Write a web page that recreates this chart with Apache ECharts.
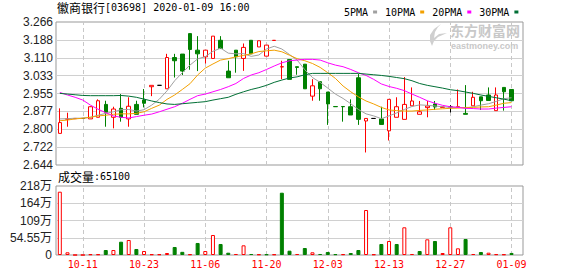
<!DOCTYPE html>
<html><head><meta charset="utf-8">
<script src="https://cdn.jsdelivr.net/npm/echarts@6/dist/echarts.min.js"></script>
<style>html,body{margin:0;padding:0;background:#fff}#c{width:578px;height:276px}</style>
</head><body><div id="c"></div>
<script>
const dates = ['10-08','10-09','10-10','10-11','10-14','10-15','10-16','10-17','10-18','10-21',
 '10-22','10-23','10-24','10-25','10-28','10-29','10-31','11-01','11-05','11-06',
 '11-07','11-08','11-11','11-12','11-14','11-15','11-19','11-20','11-21','11-22',
 '11-25','11-26','11-27','11-28','11-29','12-03','12-04','12-05','12-06','12-09',
 '12-10','12-11','12-12','12-13','12-16','12-17','12-18','12-19','12-20','12-23',
 '12-24','12-27','12-30','12-31','01-02','01-03','01-06','01-07','01-08','01-09'];
const xLabels = ['10-11','10-23','11-06','11-20','12-03','12-13','12-27','01-09'];

const opens = [2.781,2.843,2.845,2.846,2.844,2.851,2.907,2.851,2.890,2.844,
 2.907,2.926,2.984,2.990,2.975,3.111,3.126,3.215,3.143,3.114,
 3.107,3.186,3.052,3.143,3.107,3.186,3.157,3.117,3.185,3.070,
 3.102,3.071,3.082,2.943,3.006,2.961,2.898,2.898,2.897,3.023,
 2.835,2.846,2.844,2.792,2.851,2.842,2.901,2.864,2.893,2.909,
 2.894,2.896,2.895,2.868,2.901,2.940,2.948,2.880,2.981,2.972];
const closes = [2.828,2.844,2.846,2.846,2.897,2.923,2.873,2.887,2.851,2.899,
 2.864,2.912,2.990,2.990,3.111,3.097,3.052,3.146,3.127,3.143,
 3.204,3.150,3.023,3.114,3.155,3.127,3.184,3.165,3.186,3.071,
 3.016,3.068,2.975,2.988,2.975,2.909,2.897,2.897,2.861,2.842,
 2.846,2.846,2.820,2.929,2.897,2.907,2.922,2.875,2.900,2.896,
 2.896,2.896,2.897,2.864,2.938,2.923,2.924,2.948,2.962,2.923];
const lows = [2.781,2.810,2.845,2.846,2.844,2.851,2.810,2.803,2.832,2.810,
 2.864,2.894,2.943,2.990,2.975,3.024,3.035,3.058,3.052,3.085,
 3.107,3.150,3.023,3.045,3.053,3.127,3.157,3.117,3.185,3.017,
 3.016,3.036,2.975,2.923,2.923,2.818,2.897,2.832,2.861,2.818,
 2.698,2.846,2.820,2.750,2.851,2.842,2.901,2.864,2.851,2.883,
 2.894,2.872,2.893,2.864,2.901,2.883,2.923,2.880,2.880,2.923];
const highs = [2.890,2.871,2.846,2.846,2.899,2.929,2.923,2.897,2.952,2.938,
 2.923,2.974,2.990,2.990,3.127,3.127,3.126,3.215,3.204,3.143,
 3.204,3.204,3.097,3.143,3.172,3.186,3.184,3.165,3.186,3.097,
 3.102,3.071,3.082,3.017,3.006,2.961,2.898,2.898,2.929,3.039,
 2.846,2.846,2.897,2.929,2.938,3.026,2.981,2.922,2.922,2.922,
 2.897,2.904,2.972,2.991,2.962,2.940,2.981,2.981,2.981,2.972];
const volumes = [2002000,85000,0,0,22000,22000,158000,158000,420000,474000,
 190000,126000,22000,22000,63000,253000,100000,22000,380000,126000,
 632000,348000,73000,32000,306000,32000,20000,20000,20000,1970000,
 136000,32000,221000,85000,32000,95000,25000,25000,63000,158000,
 1423000,20000,348000,443000,348000,876000,32000,126000,496000,443000,
 63000,876000,211000,506000,32000,95000,73000,25000,20000,65100];

const ma5 = [2.844,2.845,2.847,2.847,2.851,2.860,2.868,2.875,2.884,2.885,
 2.878,2.884,2.904,2.930,2.966,3.010,3.045,3.078,3.105,3.115,
 3.138,3.152,3.130,3.127,3.128,3.116,3.122,3.148,3.160,3.148,
 3.124,3.100,3.058,3.024,3.003,2.978,2.952,2.933,2.910,2.885,
 2.866,2.857,2.845,2.857,2.870,2.885,2.898,2.905,2.903,2.900,
 2.897,2.894,2.895,2.891,2.897,2.904,2.910,2.920,2.932,2.936];
const ma10 = [2.836,2.839,2.844,2.847,2.851,2.857,2.860,2.864,2.866,2.866,
 2.868,2.875,2.890,2.904,2.929,2.948,2.972,2.997,3.035,3.065,
 3.083,3.100,3.106,3.114,3.120,3.127,3.137,3.140,3.143,3.136,
 3.121,3.106,3.097,3.085,3.068,3.045,3.020,2.987,2.962,2.940,
 2.922,2.909,2.894,2.883,2.880,2.878,2.878,2.881,2.883,2.886,
 2.888,2.890,2.891,2.894,2.894,2.896,2.897,2.904,2.912,2.915];
const ma20 = [2.959,2.948,2.938,2.926,2.904,2.886,2.871,2.857,2.851,2.848,
 2.854,2.860,2.865,2.875,2.886,2.897,2.912,2.929,2.945,2.952,
 2.962,2.972,2.984,2.998,3.020,3.035,3.045,3.059,3.074,3.088,
 3.097,3.100,3.103,3.103,3.100,3.088,3.078,3.071,3.059,3.045,
 3.033,3.016,2.996,2.985,2.977,2.967,2.952,2.938,2.923,2.912,
 2.903,2.897,2.894,2.890,2.889,2.887,2.887,2.891,2.894,2.897];
const ma30 = [2.955,2.952,2.949,2.946,2.945,2.945,2.945,2.945,2.946,2.943,
 2.938,2.930,2.922,2.915,2.909,2.907,2.910,2.913,2.916,2.919,
 2.926,2.932,2.938,2.951,2.962,2.972,2.980,2.990,3.003,3.013,
 3.022,3.027,3.036,3.042,3.042,3.042,3.042,3.042,3.042,3.042,
 3.039,3.036,3.033,3.029,3.024,3.019,3.010,2.998,2.990,2.984,
 2.978,2.971,2.967,2.961,2.955,2.948,2.942,2.936,2.930,2.923];

const priceTicks = ['2.644','2.722','2.800','2.877','2.955','3.033','3.110','3.188','3.266'];
const volTicks = ['0','54.55万','109万','164万','218万'];
const maNames = ['5PMA','10PMA','20PMA','30PMA'];

const P_STEP = 0.07775, P_MIN = 34 * P_STEP, P_MAX = 42 * P_STEP;
const V_STEP = 545500, V_MAX = 4 * V_STEP;

const SANS = 'Liberation Sans, Arial, sans-serif';
const MONO = 'DejaVu Sans Mono, monospace';
const CJK = 'Noto Sans CJK SC';
const RED = '#ff0000', GREEN = '#008000';
const maColors = ['#a0a0a0', '#f2a000', '#ff00ff', '#006f35'];

const cats = dates.concat(['']);
const candleData = dates.map((d, i) => [opens[i], closes[i], lows[i], highs[i]]);
const volData = volumes.map((v, i) => {
  const up = i === 0 || closes[i] >= closes[i - 1];
  return { value: v, itemStyle: up ? { color: '#fff', borderColor: RED, borderWidth: 1 }
                                    : { color: GREEN, borderColor: GREEN, borderWidth: 1 } };
});

const chart = echarts.init(document.getElementById('c'), null, { renderer: 'svg', width: 578, height: 276 });

const vLines = {
  symbol: 'none', silent: true, z: 1, animation: false,
  label: { show: false },
  lineStyle: { color: '#c8c8c8', type: [4, 3], width: 1 },
  data: xLabels.map(d => ({ xAxis: d }))
};

const series = [
  { type: 'line', xAxisIndex: 0, yAxisIndex: 0, data: [], silent: true, markLine: vLines },
  { type: 'line', xAxisIndex: 1, yAxisIndex: 1, data: [], silent: true, markLine: vLines },
  {
    type: 'candlestick', name: 'K', xAxisIndex: 0, yAxisIndex: 0, data: candleData, barWidth: 4,
    itemStyle: { color: '#fff', color0: GREEN, borderColor: RED, borderColor0: GREEN, borderColorDoji: '#000', borderWidth: 1 },
    z: 3
  },
  { type: 'bar', name: 'VOL', xAxisIndex: 1, yAxisIndex: 1, data: volData, barWidth: 4, z: 3 }
];
[ma5, ma10, ma20, ma30].forEach((arr, k) => {
  series.push({
    type: 'line', name: maNames[k], xAxisIndex: 0, yAxisIndex: 0, data: arr,
    symbol: 'none', smooth: false, z: 4,
    lineStyle: { color: maColors[k], width: 1 }, itemStyle: { color: maColors[k] }
  });
});

chart.setOption({
  animation: false,
  grid: [
    { left: 56, right: 55, top: 22, bottom: 111, show: true, borderColor: '#999', borderWidth: 1, backgroundColor: 'transparent' },
    { left: 56, right: 55, top: 186, bottom: 21, show: true, borderColor: '#999', borderWidth: 1, backgroundColor: 'transparent' }
  ],
  legend: {
    data: maNames, left: 339, top: 2, align: 'right', icon: 'rect',
    itemWidth: 4, itemHeight: 3, itemGap: 8, selectedMode: false,
    itemStyle: { borderWidth: 0 },
    textStyle: { fontFamily: MONO, fontSize: 10, color: '#000', padding: [0, 0, 0, 0] }
  },
  xAxis: [
    { type: 'category', gridIndex: 0, data: cats, boundaryGap: true,
      axisLine: { show: false }, axisTick: { show: false }, axisLabel: { show: false }, splitLine: { show: false } },
    { type: 'category', gridIndex: 1, data: cats, boundaryGap: true,
      axisLine: { show: false }, axisTick: { show: false }, splitLine: { show: false },
      axisLabel: { interval: (idx, val) => xLabels.includes(val), color: RED, fontFamily: MONO, fontSize: 10, margin: 4 } }
  ],
  yAxis: [
    { type: 'value', gridIndex: 0, min: P_MIN, max: P_MAX, interval: P_STEP,
      axisLine: { show: false }, axisTick: { show: false },
      axisLabel: { formatter: v => priceTicks[Math.round((v - P_MIN) / P_STEP)] || '', margin: 3, fontFamily: SANS, fontSize: 12, color: '#222' },
      splitLine: { show: true, showMinLine: false, showMaxLine: false, lineStyle: { color: '#d0d0d0', width: 1 } } },
    { type: 'value', gridIndex: 1, min: 0, max: V_MAX, interval: V_STEP,
      axisLine: { show: false }, axisTick: { show: false },
      axisLabel: { formatter: v => volTicks[Math.round(v / V_STEP)] || '', margin: 4, fontFamily: SANS + ', ' + CJK, fontSize: 12, color: '#222' },
      splitLine: { show: true, showMinLine: false, showMaxLine: false, lineStyle: { color: '#d0d0d0', width: 1 } } }
  ],
  graphic: [
    { type: 'text', left: 57, top: 1, silent: true,
      style: { text: '{a|徽商银行}{b|[03698] 2020-01-09 16:00}', rich: {
        a: { fontFamily: CJK, fontSize: 12, fill: '#000' },
        b: { fontFamily: MONO, fontSize: 10, fill: '#000' } } } },
    { type: 'text', left: 58, top: 170, silent: true,
      style: { text: '{a|成交量}{b|:65100}', rich: {
        a: { fontFamily: CJK, fontSize: 12, fill: '#000' },
        b: { fontFamily: MONO, fontSize: 10, fill: '#000' } } } },
    { type: 'polygon', silent: true, z: 0,
      shape: { points: [[441,24],[434,29],[430,35],[430,41],[432,46],[434,41],[438,37],[447,33],[439,34],[434,38],[435,32],[438,27]] },
      style: { fill: '#cfcfcf' } },
    { type: 'text', left: 450, top: 23, silent: true, z: 0,
      style: { text: '东方财富网', fontFamily: CJK, fontSize: 14, lineHeight: 14, fontWeight: 'bold', fill: '#c8c8c8' } },
    { type: 'text', left: 451, top: 41, silent: true, z: 0,
      style: { text: 'eastmoney.com', fontFamily: SANS, fontSize: 9, lineHeight: 9, fontWeight: 'bold', fill: '#c8c8c8' } }
  ],
  series: series
});
</script></body></html>
